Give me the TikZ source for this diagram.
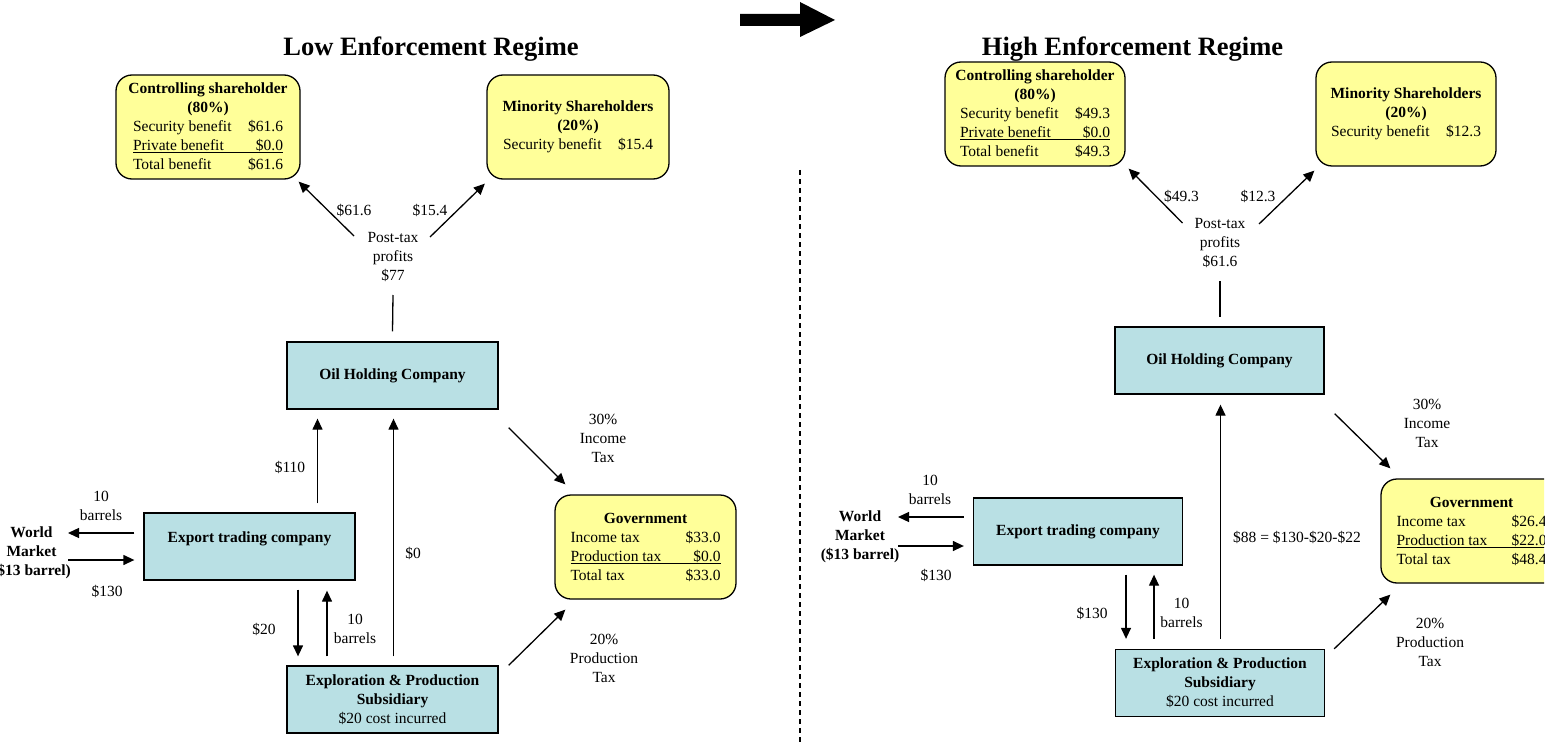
\documentclass[tikz,border=0pt]{standalone}
\usepackage{fontspec}
\setmainfont{Liberation Serif}
\usetikzlibrary{arrows.meta}

\definecolor{firmblue}{RGB}{185,224,228}
\definecolor{holderyellow}{RGB}{255,255,153}

% one line of a benefit / tax table
\newcommand{\benrow}[2]{\makebox[150pt]{#1\hfill#2}}
\newcommand{\benline}[2]{\makebox[150pt]{#1\hfill#2}\llap{\rule[-2.5pt]{150pt}{0.8pt}}}

\begin{document}
\begin{tikzpicture}[x=1pt,y=-1pt,
	>={Triangle[length=11pt,width=10pt]},
	every node/.style={font=\fontsize{15.5}{19}\selectfont,inner sep=1pt},
	firm/.style={draw,line width=1.3pt,fill=firmblue,align=center,
		font=\fontsize{15.5}{19}\selectfont\bfseries,
		minimum height=67pt,inner sep=0pt},
	holder/.style={draw,line width=1.3pt,fill=holderyellow,align=center,
		rounded corners=16pt,minimum height=104pt,inner sep=0pt},
	note/.style={align=center},
	market/.style={align=center,font=\fontsize{15.5}{19}\selectfont\bfseries},
	heading/.style={font=\fontsize{26.5}{31}\selectfont\bfseries},
	flow/.style={->,line width=1.3pt},
	link/.style={line width=1.3pt}]
	\useasboundingbox (0,0) rectangle (1557,746);
	\clip (0,0) rectangle (1544,746);

	% regime change arrow and separator
	\fill (740,14) -- (800,14) -- (800,2) -- (835,20) -- (800,37) -- (800,26) -- (740,26) -- cycle;
	\draw[line width=1.2pt,dash pattern=on 5pt off 4pt] (800,170) -- (800,746);

	% low enforcement regime
	\node[heading] (lowtitle) at (431,49) {Low Enforcement Regime};
	\node[holder,minimum width=184pt] (lowctrl) at (208,127)
		{\textbf{Controlling shareholder}\\\textbf{(80\%)}\\
		\benrow{Security benefit}{\$61.6}\\
		\benline{Private benefit}{\$0.0}\\
		\benrow{Total benefit}{\$61.6}};
	\node[holder,minimum width=182pt] (lowminor) at (578,127)
		{\textbf{Minority Shareholders}\\\textbf{(20\%)}\\
		\benrow{Security benefit}{\$15.4}};
	\node[note] (lowprofit) at (393,257) {Post-tax\\profits\\\$77};
	\node[firm,minimum width=211pt] (lowoil) at (392.5,375.5) {Oil Holding Company};
	\node[holder,minimum width=181pt] (lowgov) at (645.5,547)
		{\textbf{Government}\\
		\benrow{Income tax}{\$33.0}\\
		\benline{Production tax}{\$0.0}\\
		\benrow{Total tax}{\$33.0}};
	\node[firm,minimum width=211pt] (lowexport) at (249.5,546.5) {Export trading company\\~};
	\node[firm,minimum width=211pt] (lowep) at (392.5,699.5)
		{Exploration \& Production\\Subsidiary\\\mdseries\$20 cost incurred};
	\node[market] (lowworld) at (31.5,553) {World\\Market\\(\$13 barrel)};

	\node (lowctrlamt) at (354,210) {\$61.6};
	\node (lowminoramt) at (430,210) {\$15.4};
	\node (lowexportamt) at (290,467) {\$110};
	\node (lowepamt) at (413,553) {\$0};
	\node (lowcost) at (264,629) {\$20};
	\node[note] (lowbarrels) at (355,629) {10\\barrels};
	\node[note] (lowincome) at (603,438) {30\%\\Income\\Tax};
	\node[note] (lowproduction) at (604,658) {20\%\\Production\\Tax};
	\node[note] (lowsold) at (101,505.5) {10\\barrels};
	\node (lowsales) at (107,591) {\$130};

	\draw[flow] ([shift={(-39,-21)}]lowprofit.center) -- ([shift={(-2,2)}]lowctrl.south east);
	\draw[flow] ([shift={(37,-20)}]lowprofit.center) -- ([shift={(-1.5,4)}]lowminor.south west);
	\draw[link] ([shift={(0,38)}]lowprofit.center) -- ([shift={(0,-10)}]lowoil.north);
	\draw[flow] ([shift={(10,18)}]lowoil.south east) -- ([shift={(11,-10)}]lowgov.north west);
	\draw[flow] ([shift={(10,0)}]lowep.north east) -- ([shift={(11,10)}]lowgov.south west);
	\draw[flow] ([shift={(68,-9)}]lowexport.north) -- ([shift={(-75,9)}]lowoil.south);
	\draw[flow] ([shift={(1,-9)}]lowep.north) -- ([shift={(1,9)}]lowoil.south);
	\draw[flow] ([shift={(48.5,9)}]lowexport.south) -- ([shift={(-94.5,-9)}]lowep.north);
	\draw[flow] ([shift={(-65.5,-9)}]lowep.north) -- ([shift={(77.5,10)}]lowexport.south);
	\draw[flow] ([shift={(-9,-13.5)}]lowexport.west) -- ([shift={(36.5,-20)}]lowworld.center);
	\draw[flow] ([shift={(36.5,7)}]lowworld.center) -- ([shift={(-9,13.5)}]lowexport.west);

	% high enforcement regime
	\node[heading] (hightitle) at (1132.5,49) {High Enforcement Regime};
	\node[holder,minimum width=180pt] (highctrl) at (1035,114)
		{\textbf{Controlling shareholder}\\\textbf{(80\%)}\\
		\benrow{Security benefit}{\$49.3}\\
		\benline{Private benefit}{\$0.0}\\
		\benrow{Total benefit}{\$49.3}};
	\node[holder,minimum width=180pt] (highminor) at (1406,114)
		{\textbf{Minority Shareholders}\\\textbf{(20\%)}\\
		\benrow{Security benefit}{\$12.3}};
	\node[note] (highprofit) at (1220,243) {Post-tax\\profits\\\$61.6};
	\node[firm,minimum width=209pt] (highoil) at (1219.5,360.5) {Oil Holding Company};
	\node[holder,minimum width=181pt] (highgov) at (1471.5,531)
		{\textbf{Government}\\
		\benrow{Income tax}{\$26.4}\\
		\benline{Production tax}{\$22.0}\\
		\benrow{Total tax}{\$48.4}};
	\node[firm,minimum width=209pt] (highexport) at (1078,531.5) {Export trading company};
	\node[firm,minimum width=209pt] (highep) at (1220,683)
		{Exploration \& Production\\Subsidiary\\\mdseries\$20 cost incurred};
	\node[market] (highworld) at (860,537) {World\\Market\\(\$13 barrel)};

	\node (highctrlamt) at (1181.5,196) {\$49.3};
	\node (highminoramt) at (1258,196) {\$12.3};
	\node (highepamt) at (1297,537) {\$88 = \$130-\$20-\$22};
	\node (highcost) at (1092,613) {\$130};
	\node[note] (highbarrels) at (1181.5,613) {10\\barrels};
	\node[note] (highincome) at (1427,423) {30\%\\Income\\Tax};
	\node[note] (highproduction) at (1430,642) {20\%\\Production\\Tax};
	\node[note] (highsold) at (930,489.5) {10\\barrels};
	\node (highsales) at (936,575) {\$130};

	\draw[flow] ([shift={(-37.5,-20)}]highprofit.center) -- ([shift={(3,2)}]highctrl.south east);
	\draw[flow] ([shift={(39,-19)}]highprofit.center) -- ([shift={(-1,4)}]highminor.south west);
	\draw[link] ([shift={(0,38)}]highprofit.center) -- ([shift={(0.5,-9)}]highoil.north);
	\draw[flow] ([shift={(10,19)}]highoil.south east) -- ([shift={(10,-10)}]highgov.north west);
	\draw[flow] ([shift={(9,0)}]highep.north east) -- ([shift={(10,11)}]highgov.south west);
	\draw[flow] ([shift={(0.5,-10)}]highep.north) -- ([shift={(1,10)}]highoil.south);
	\draw[flow] ([shift={(48,9)}]highexport.south) -- ([shift={(-94,-10)}]highep.north);
	\draw[flow] ([shift={(-66,-10)}]highep.north) -- ([shift={(76,9)}]highexport.south);
	\draw[flow] ([shift={(-9,-14.5)}]highexport.west) -- ([shift={(38,-20)}]highworld.center);
	\draw[flow] ([shift={(38,9)}]highworld.center) -- ([shift={(-9,14.5)}]highexport.west);
\end{tikzpicture}
\end{document}
